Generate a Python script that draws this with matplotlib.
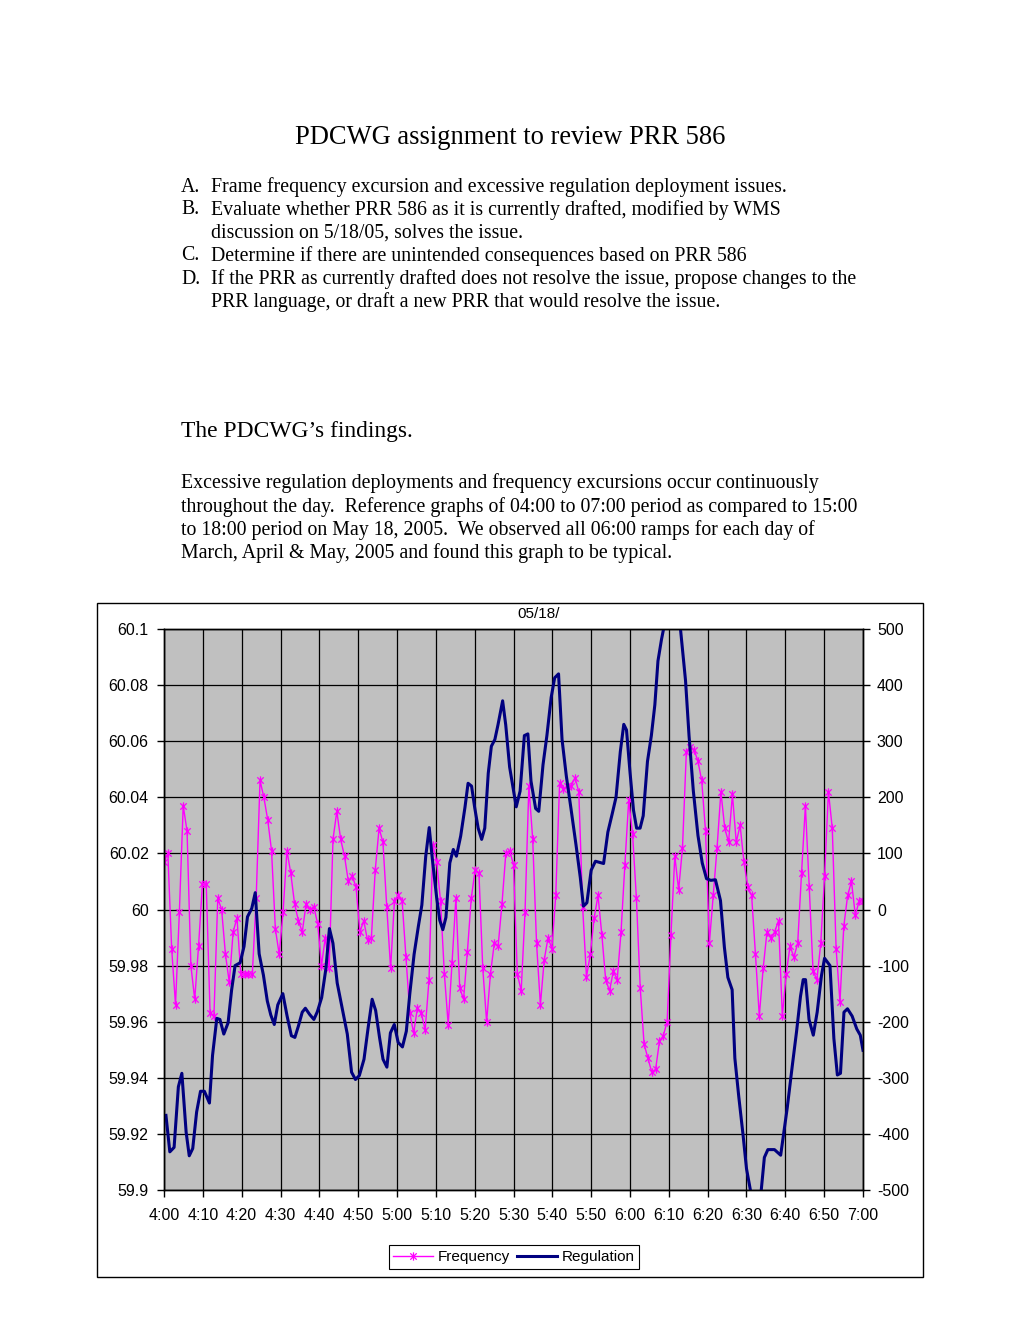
import numpy as np
import matplotlib
matplotlib.use("Agg")
import matplotlib.pyplot as plt
from matplotlib.path import Path
from matplotlib.lines import Line2D
from matplotlib.patches import Rectangle

# ============ Data ============
# frequency (Hz), one sample per minute-ish from 4:00 to 7:00
freq_hz = [
    60.017, 60.020, 59.986, 59.966, 59.999, 60.037, 60.028, 59.980, 59.968, 59.987,
    60.009, 60.009, 59.963, 59.962, 60.004, 60.000, 59.984, 59.974, 59.992, 59.997,
    59.977, 59.977, 59.977, 59.977, 60.004, 60.046, 60.040, 60.032, 60.021, 59.993,
    59.984, 59.999, 60.021, 60.013, 60.002, 59.996, 59.992, 60.002, 60.000, 60.001,
    59.995, 59.980, 59.990, 59.979, 60.025, 60.035, 60.025, 60.019, 60.010, 60.012,
    60.008, 59.992, 59.996, 59.989, 59.990, 60.014, 60.029, 60.024, 60.001, 59.979,
    60.003, 60.005, 60.003, 59.983, 59.963, 59.956, 59.965, 59.963, 59.957, 59.975,
    60.023, 60.017, 60.003, 59.977, 59.959, 59.981, 60.004, 59.972, 59.968, 59.985,
    60.004, 60.014, 60.013, 59.979, 59.960, 59.977, 59.988, 59.987, 60.002, 60.020,
    60.021, 60.016, 59.977, 59.971, 59.999, 60.044, 60.025, 59.988, 59.966, 59.982,
    59.990, 59.986, 60.005, 60.045, 60.043, 60.044, 60.044, 60.047, 60.042, 60.001,
    59.976, 59.984, 59.997, 60.005, 59.991, 59.975, 59.971, 59.978, 59.975, 59.992,
    60.016, 60.039, 60.027, 60.004, 59.972, 59.952, 59.947, 59.942, 59.943, 59.953,
    59.955, 59.960, 59.991, 60.019, 60.007, 60.022, 60.056, 60.058, 60.057, 60.053,
    60.046, 60.028, 59.988, 60.005, 60.022, 60.042, 60.029, 60.024, 60.041, 60.024,
    60.030, 60.017, 60.008, 60.005, 59.984, 59.962, 59.979, 59.992, 59.990, 59.992,
    59.996, 59.962, 59.977, 59.987, 59.983, 59.988, 60.013, 60.037, 60.008, 59.978,
    59.975, 59.988, 60.012, 60.042, 60.029, 59.986, 59.967, 59.994, 60.005, 60.010,
    59.998, 60.003, 60.003,
]

# regulation (MW), minutes after 4:00 where the line bends
reg_t = [
    0.5, 1.5, 2.6, 3.7, 4.6, 5.7, 6.5, 7.4, 8.4, 9.4, 10.4, 11.7, 12.5, 13.6, 14.4,
    15.4, 16.5, 17.4, 18.3, 19.6, 20.6, 21.5, 22.6, 23.5, 24.5, 25.6, 26.6, 27.5,
    28.4, 29.3, 30.6, 31.7, 32.8, 33.7, 34.6, 35.6, 36.4, 37.5, 38.6, 39.5, 40.6,
    41.7, 42.6, 43.5, 44.6, 45.9, 47.2, 48.3, 49.3, 50.3, 51.5, 52.6, 53.6, 54.5,
    55.5, 56.4, 57.4, 58.3, 59.3, 60.3, 61.4, 62.4, 63.3, 64.4, 65.5, 66.4, 67.4,
    68.3, 69.1, 70.2, 71.0, 71.8, 72.6, 73.6, 74.5, 75.3, 76.4, 77.5, 78.3, 79.2,
    80.0, 80.9, 81.8, 82.6, 83.5, 84.3, 85.2, 86.0, 87.2, 88.0, 89.0, 90.7, 91.7,
    92.8, 93.7, 94.5, 95.7, 96.5, 97.6, 98.6, 99.7, 100.6, 101.6, 102.5, 103.6,
    104.8, 106.1, 107.2, 108.0, 108.9, 110.0, 111.1, 112.1, 113.2, 114.3, 115.4,
    116.4, 117.5, 118.4, 119.1, 120.0, 120.9, 121.7, 122.6, 123.4, 124.5, 125.5,
    126.4, 127.2, 128.1, 129.5, 130.5, 131.5, 132.5, 133.0, 134.3, 135.2, 136.3,
    137.5, 138.6, 139.7, 140.8, 142.0, 143.3, 144.3, 145.2, 146.3, 147.0, 148.0,
    149.1, 150.0, 151.0, 152.0, 153.0, 153.8, 154.6, 155.5, 157.2, 158.8, 160.5,
    161.8, 162.9, 163.9, 164.6, 165.2, 166.1, 167.2, 168.2, 169.3, 170.1, 171.5,
    172.5, 173.4, 174.2, 175.1, 176.0, 177.2, 178.4, 179.3, 180.0,
]
reg_mw = [
    -367, -432, -424, -316, -292, -397, -439, -426, -361, -324, -324, -345, -260, -194, -196,
    -222, -202, -144, -100, -95, -66, -13, 2, 30, -79, -117, -163, -188,
    -205, -170, -150, -190, -225, -228, -208, -183, -176, -187, -196, -182, -157,
    -105, -34, -60, -131, -176, -222, -290, -303, -296, -267, -209, -160, -180,
    -228, -267, -281, -220, -205, -237, -245, -217, -150, -80, -30, 8, 95,
    146, 90, 22, -19, -36, -14, 83, 107, 95, 131, 182, 225, 220,
    182, 145, 125, 145, 243, 291, 303, 329, 372, 329, 254, 183, 211,
    310, 313, 229, 180, 175, 258, 310, 378, 413, 420, 303, 238,
    180, 115, 57, 6, 12, 70, 86, 84, 82, 138, 170,
    200, 281, 330, 320, 245, 177, 145, 145, 167, 264, 310,
    365, 443, 481, 530, 550, 550, 530, 500, 408, 310, 212,
    132, 83, 55, 52, 53, 16, -67, -121, -143, -265, -333,
    -401, -462, -500, -535, -535, -500, -442, -428, -428, -438, -353,
    -278, -217, -155, -125, -125, -196, -224, -183, -118, -87, -100,
    -230, -295, -292, -183, -177, -190, -213, -224, -251,
]

time_labels = ["4:00", "4:10", "4:20", "4:30", "4:40", "4:50", "5:00", "5:10", "5:20", "5:30",
               "5:40", "5:50", "6:00", "6:10", "6:20", "6:30", "6:40", "6:50", "7:00"]
freq_ticks = [59.9, 59.92, 59.94, 59.96, 59.98, 60.0, 60.02, 60.04, 60.06, 60.08, 60.1]
reg_ticks = [-500, -400, -300, -200, -100, 0, 100, 200, 300, 400, 500]

# ============ Page setup ============
W, H = 1020, 1320
fig = plt.figure(figsize=(W / 100, H / 100), dpi=100)
fig.patch.set_facecolor("white")

def fy(py):
    return 1 - py / H

def fx(px):
    return px / W

serif = "Liberation Serif"
sans = "Liberation Sans"

fig.text(fx(510), fy(137), "PDCWG assignment to review PRR 586", ha="center", va="center",
         family=serif, fontsize=19.1)

items = [
    ("A.", "Frame frequency excursion and excessive regulation deployment issues.", 187),
    ("B.", "Evaluate whether PRR 586 as it is currently drafted, modified by WMS", 210),
    ("", "discussion on 5/18/05, solves the issue.", 233),
    ("C.", "Determine if there are unintended consequences based on PRR 586", 256),
    ("D.", "If the PRR as currently drafted does not resolve the issue, propose changes to the", 279),
    ("", "PRR language, or draft a new PRR that would resolve the issue.", 302),
]
for lab, txt, py in items:
    if lab:
        fig.text(fx(181), fy(py), lab, ha="left", va="center", family=serif, fontsize=14.35)
    fig.text(fx(211), fy(py), txt, ha="left", va="center", family=serif, fontsize=14.35)

fig.text(fx(181), fy(432), "The PDCWG\u2019s findings.", ha="left", va="center",
         family=serif, fontsize=16.9)

para = [
    ("Excessive regulation deployments and frequency excursions occur continuously", 483),
    ("throughout the day.  Reference graphs of 04:00 to 07:00 period as compared to 15:00", 507),
    ("to 18:00 period on May 18, 2005.  We observed all 06:00 ramps for each day of", 530),
    ("March, April & May, 2005 and found this graph to be typical.", 553),
]
for txt, py in para:
    fig.text(fx(181), fy(py), txt, ha="left", va="center", family=serif, fontsize=14.35)

# chart frame
fig.patches.append(Rectangle((fx(97), fy(1277)), fx(923) - fx(97), fy(603) - fy(1277),
                             transform=fig.transFigure, fill=False, edgecolor="black", lw=1))

# ============ Chart ============
ax = fig.add_axes([fx(164), fy(1190), fx(863) - fx(164), fy(629) - fy(1190)])
ax.set_facecolor("#C0C0C0")
ax.set_xlim(0, 180)
ax.set_ylim(59.9, 60.1)
ax.set_xticks(np.arange(0, 181, 10))
ax.set_xticklabels(time_labels)
ax.set_yticks(freq_ticks)
ax.set_yticklabels(["{:g}".format(round(v, 2)) for v in freq_ticks])
ax.grid(True, color="black", lw=0.9)
ax.set_axisbelow(True)

ax2 = ax.twinx()
ax2.set_ylim(-500, 500)
ax2.set_yticks(reg_ticks)
ax2.set_yticklabels([str(v) for v in reg_ticks])

for a in (ax, ax2):
    a.tick_params(direction="out", length=5, width=1, colors="black", labelsize=11.5, pad=4)
    for lbl in a.get_xticklabels() + a.get_yticklabels():
        lbl.set_family(sans)
    for s in a.spines.values():
        s.set_color("black")
        s.set_linewidth(1)
ax.tick_params(axis="x", pad=8)
ax.tick_params(axis="y", pad=6)
ax2.tick_params(axis="y", pad=5)

# excel-like star marker: an x with a vertical bar
star = Path([(-1, -1), (1, 1), (-1, 1), (1, -1), (0, -1.3), (0, 1.3)],
            [Path.MOVETO, Path.LINETO, Path.MOVETO, Path.LINETO, Path.MOVETO, Path.LINETO])

freq_t = np.linspace(0, 180, len(freq_hz))
ax.plot(freq_t, freq_hz, color="#FF00FF", lw=1, marker=star, ms=6, mfc="none",
        mec="#FF00FF", mew=0.9)
ax2.plot(reg_t, reg_mw, color="#000080", lw=2.2, solid_joinstyle="round")

fig.text(fx(539), fy(614), "05/18/", ha="center", va="center", family=sans, fontsize=11)

handles = [
    Line2D([], [], color="#FF00FF", lw=1, marker=star, ms=6, mfc="none", mec="#FF00FF", mew=0.9),
    Line2D([], [], color="#000080", lw=2.2),
]
leg = fig.legend(handles, ["Frequency", "Regulation"], loc="center",
                 bbox_to_anchor=(fx(514), fy(1257)), ncol=2, frameon=True, fancybox=False,
                 edgecolor="black", framealpha=1, prop={"family": sans, "size": 11},
                 handlelength=2.6, handletextpad=0.3, columnspacing=0.5, borderpad=0.3)
leg.get_frame().set_linewidth(0.8)

fig.savefig("out.png", dpi=100)
